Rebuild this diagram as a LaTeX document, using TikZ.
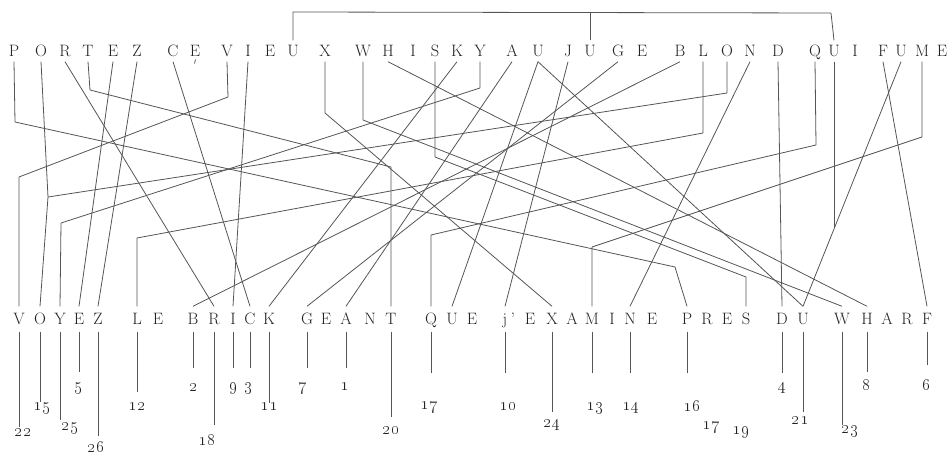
\documentclass[tikz,border=0pt]{standalone}
\definecolor{ln}{HTML}{555555}
\definecolor{tx}{HTML}{222222}
\tikzset{
  topl/.style={inner xsep=0pt, inner ysep=5pt, text height=11pt, text depth=0pt, text=tx, font=\fontsize{16.5}{18}\selectfont},
  botl/.style={inner xsep=0pt, inner ysep=7pt, text height=11pt, text depth=0pt, text=tx, font=\fontsize{16.5}{18}\selectfont},
  numl/.style={inner sep=0pt, text=tx, font=\fontsize{19}{20}\selectfont},
  link/.style={draw=ln, line width=0.8pt, line join=round}
}
\begin{document}
\begin{tikzpicture}[x=1pt,y=-1pt]
\useasboundingbox (0,0) rectangle (952,457);
% top sentence
\foreach \nm/\x/\l in {P/14/P, O/41/O, R/65/R, T/88/T, E/113/E, Z/137/Z, C/173/C, E2/195/E, V/227/V, I/248/I, E3/270/E, U/293/U, X/325/X, W/363/W, H/388/H, I2/413/I, S/435/S, K/457/K, Y/480/Y, A/512/A, U2/538/U, J/568/J, U3/590/U, G/618/G, E4/642/E, B/680/B, L/703/L, O2/727/O, N/750/N, D/778/D, Q/815/Q, U4/834/U, I3/855/I, F/883/F, U5/901/U, M/922/M, E5/942/E}
  \node[topl] (t\nm) at (\x,51) {\l};
% bottom sentence
\foreach \nm/\x/\l in {V/19/V, O/40/O, Y/60/Y, E/79/E, Z/98/Z, L/137/L, E2/158/E, B/193/B, R/214/R, I/233/I, C/250/C, K/269/K, G/307/G, E3/326/E, A/346/A, N/370/N, T/391/T, Q/431/Q, U/452/U, E4/472/E, J/505/j, E5/530/E, X/552/X, A2/572/A, M/592/M, I2/612/I, N2/630/N, E6/652/E, P/687/P, R2/707/R, E7/727/E, S/746/S, D/782/D, U2/803/U, W/842/W, H/867/H, A3/887/A, R3/907/R, F/927/F}
  \node[botl] (b\nm) at (\x,319) {\l};
\node[botl] (bAp) at (513,319) {'};
% small mark under the E of CE
\draw[link] (195.5,59.5) -- (194.5,63.5);
% numbers
\foreach \nm/\x/\y/\n in {V/23/433/22, O/42/408/15, Y/70/428/25, E/79/388/5, Z/96/447/26, L/137/407/12, B/194/388/2, R/207/440/18, I/234/388/9, C/249/388/3, K/269/407/11, G/303/388/7, A/345/387/1, T/391/431/20, Q/429/407/17, J/508/407/10, X/552/425/24, M/595/408/13, N2/631/408/14, P/692/406/16, R2/711/427/17, S/741/432/19, D/783/388/4, U2/800/421/21, W/850/431/23, H/867/385/8, F/927/385/6}
  \node[numl] (n\nm) at (\x,\y) {\oldstylenums{\n}};
% stems below the bottom letters
\foreach \nm/\len in {V/95.5, O/70.5, Y/88.5, E/40.5, Z/104.5, L/60.5, B/36.5, R/93.5, I/36.5, C/36.5, K/71.5, G/36.5, A/36.5, T/85.5, Q/41.5, J/41.5, X/80.5, M/41.5, N2/41.5, P/41.5, D/41.5, U2/80.5, W/93.5, H/40.5, F/33.5}
  \draw[link] (b\nm.south) -- ++(0,\len);
% bracket joining the three U
\draw[link] (tU.north) -- (293,12) -- (831,13) -- (tU4.north);
\draw[link] (tU3.north) -- (590,12.5);
% connectors
\coordinate (oj) at (48,197);
\draw[link] (tP.south) -- (15,122) -- (675,267) -- (bP.north);
\draw[link] (tO.south) -- (oj) -- (bO.north);
\draw[link] (tO2.south) -- (727,93) -- (oj);
\draw[link] (tR.south) -- (bR.north);
\draw[link] (tT.south) -- (90,90) -- (391,167) -- (bT.north);
\draw[link] (tE.south) -- (bE.north);
\draw[link] (tZ.south) -- (bZ.north);
\draw[link] (tC.south) -- (bC.north);
\draw[link] (tV.south) -- (228,97) -- (19,177) -- (bV.north);
\draw[link] (tI.south) -- (bI.north);
\draw[link] (tX.south) -- (325,113) -- (bX.north);
\draw[link] (tW.south) -- (363,120) -- (bW.north);
\draw[link] (tH.south) -- (bH.north);
\draw[link] (tS.south) -- (435,157) -- (746,277) -- (bS.north);
\draw[link] (tK.south) -- (bK.north);
\draw[link] (tY.south) -- (480,88) -- (61,223) -- (bY.north);
\draw[link] (tA.south) -- (bA.north);
\draw[link] (tU2.south) -- (bU.north);
\draw[link] (tU2.south) -- (bU2.north);
\draw[link] (tJ.south) -- (bJ.north);
\draw[link] (tG.south) -- (bG.north);
\draw[link] (tB.south) -- (bB.north);
\draw[link] (tL.south) -- (703,133) -- (137,238) -- (bL.north);
\draw[link] (tN.south) -- (bN2.north);
\draw[link] (tD.south) -- (bD.north);
\draw[link] (tQ.south) -- (816,145) -- (431,235) -- (bQ.north);
\draw[link] (tU4.south) -- (834,228);
\draw[link] (tF.south) -- (bF.north);
\draw[link] (tU5.south) -- (bU2.north);
\draw[link] (tM.south) -- (922,137) -- (592,247) -- (bM.north);
\end{tikzpicture}
\end{document}
